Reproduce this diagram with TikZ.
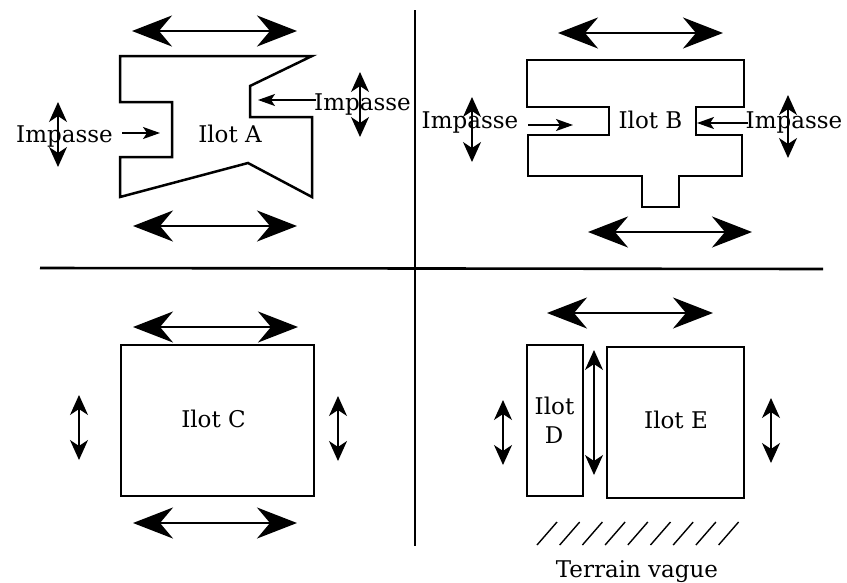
\documentclass[tikz,border=0pt]{standalone}
\usepackage{fontspec}
\setmainfont{DejaVu Serif}
\usetikzlibrary{arrows.meta}
\begin{document}
\begin{tikzpicture}[x=1pt,y=-1pt,
  lbl/.style={font=\fontsize{23}{27}\selectfont, anchor=base, inner sep=0pt},
  plotline/.style={line width=2.5pt, line join=miter},
  divider/.style={line width=2.6pt},
  bigarrow/.style={line width=2.4pt, {Stealth[length=40pt,width=31pt,inset=13pt]}-{Stealth[length=40pt,width=31pt,inset=13pt]}},
  midarrow/.style={line width=1.5pt, {Stealth[length=20pt,width=18pt,inset=6pt]}-{Stealth[length=20pt,width=18pt,inset=6pt]}},
  smallarrow/.style={line width=1.4pt, -{Stealth[length=17pt,width=12pt,inset=4pt]}},
]
\useasboundingbox (0,0) rectangle (847,582);

% dividers
\coordinate (vtop) at (415,10);
\coordinate (vbot) at (415,546);
\coordinate (hl) at (40,268);
\coordinate (hr) at (823,269);
\draw[divider] (vtop) -- (vbot);
\draw[divider] (hl) -- (hr);

% ---------------- Ilot A ----------------
\draw[plotline] (120,56) -- (312,56) -- (250,86) -- (250,117) -- (312,117) -- (312,197)
  -- (248,163) -- (120,197) -- (120,157) -- (172,157) -- (172,102) -- (120,102) -- cycle;
\node[lbl] (ilotA) at (230,142) {Ilot A};
\node[lbl] (impAL) at (64.5,142) {Impasse};
\node[lbl] (impAR) at (362.5,110) {Impasse};
\coordinate (aLs) at (122,133); \coordinate (aLe) at (160,133);
\draw[smallarrow] (aLs) -- (aLe);
\coordinate (aRs) at (316,100); \coordinate (aRe) at (258,100);
\draw[smallarrow] (aRs) -- (aRe);
\coordinate (aT1) at (132,31); \coordinate (aT2) at (297,31);
\draw[bigarrow] (aT1) -- (aT2);
\coordinate (aB1) at (133,226); \coordinate (aB2) at (297,226);
\draw[bigarrow] (aB1) -- (aB2);
\coordinate (aV1) at (58,102); \coordinate (aV2) at (58,167);
\draw[midarrow] (aV1) -- (aV2);
\coordinate (aW1) at (360,72); \coordinate (aW2) at (360,137);
\draw[midarrow] (aW1) -- (aW2);

% ---------------- Ilot B ----------------
\draw[plotline] (527,60) -- (744,60) -- (744,107) -- (696,107) -- (696,135) -- (742,135)
  -- (742,176) -- (679,176) -- (679,207) -- (642,207) -- (642,176) -- (528,176)
  -- (528,135) -- (609,135) -- (609,107) -- (527,107) -- cycle;
\node[lbl] (ilotB) at (650.5,128) {Ilot B};
\node[lbl] (impBL) at (470,128) {Impasse};
\node[lbl] (impBR) at (794,128) {Impasse};
\coordinate (bLs) at (528,125); \coordinate (bLe) at (573,125);
\draw[smallarrow] (bLs) -- (bLe);
\coordinate (bRs) at (748,123); \coordinate (bRe) at (697,123);
\draw[smallarrow] (bRs) -- (bRe);
\coordinate (bT1) at (558,33); \coordinate (bT2) at (723,33);
\draw[bigarrow] (bT1) -- (bT2);
\coordinate (bB1) at (588,232); \coordinate (bB2) at (752,232);
\draw[bigarrow] (bB1) -- (bB2);
\coordinate (bV1) at (472,97); \coordinate (bV2) at (472,162);
\draw[midarrow] (bV1) -- (bV2);
\coordinate (bW1) at (788,95); \coordinate (bW2) at (788,158);
\draw[midarrow] (bW1) -- (bW2);

% ---------------- Ilot C ----------------
\draw[plotline] (121,345) rectangle (314,496);
\node[lbl] (ilotC) at (213.5,427) {Ilot C};
\coordinate (cT1) at (133,327); \coordinate (cT2) at (298,327);
\draw[bigarrow] (cT1) -- (cT2);
\coordinate (cB1) at (133,523); \coordinate (cB2) at (297,523);
\draw[bigarrow] (cB1) -- (cB2);
\coordinate (cV1) at (79,395); \coordinate (cV2) at (79,460);
\draw[midarrow] (cV1) -- (cV2);
\coordinate (cW1) at (338,396); \coordinate (cW2) at (338,461);
\draw[midarrow] (cW1) -- (cW2);

% ---------------- Ilots D and E ----------------
\draw[plotline] (527,345) rectangle (583,496);
\draw[plotline] (607,347) rectangle (744,498);
\node[lbl] (ilotD1) at (554.5,414) {Ilot};
\node[lbl] (ilotD2) at (554,443) {D};
\node[lbl] (ilotE) at (676,428) {Ilot E};
\coordinate (eT1) at (547,313); \coordinate (eT2) at (713,313);
\draw[bigarrow] (eT1) -- (eT2);
\coordinate (eM1) at (594,350); \coordinate (eM2) at (594,475);
\draw[midarrow] (eM1) -- (eM2);
\coordinate (eV1) at (503,400); \coordinate (eV2) at (503,465);
\draw[midarrow] (eV1) -- (eV2);
\coordinate (eW1) at (771,398); \coordinate (eW2) at (771,463);
\draw[midarrow] (eW1) -- (eW2);

% terrain vague hatching
\foreach \i in {0,...,8} {
  \draw[line width=1.4pt] ({537+22.7*\i},545) -- ({557+22.7*\i},522);
}
\node[lbl] (terrain) at (637,577) {Terrain vague};
\end{tikzpicture}
\end{document}
